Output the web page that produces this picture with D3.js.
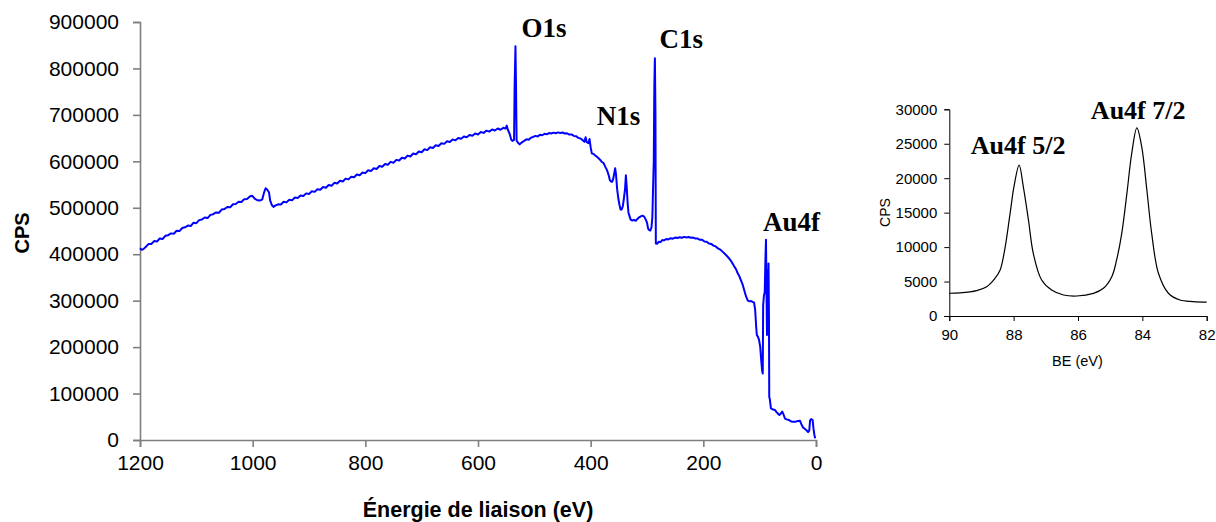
<!DOCTYPE html>
<html><head><meta charset="utf-8">
<script src="https://cdn.jsdelivr.net/npm/d3@7"></script>
<style>
html,body{margin:0;padding:0;background:#fff;}
svg{display:block;}
</style></head>
<body>
<svg id="chart" width="1216" height="522"></svg>
<script>
// ---------- Main survey spectrum ----------
const mainEnergy = [
1200,1197,1194,1190,1185,1180,1175,1170,1165,1160,1155,1150,1145,1140,1135,1130,1125,1120,1115,1110,1105,1100,1095,1090,1085,1080,1075,1070,1065,1060,1055,1050,1045,1040,1035,1030,1025,1020,1015,1010,1005,1001,996,991,987,983,980,977,974,971,969,966,963,960,
955,950,945,940,935,930,925,920,915,910,905,900,895,890,885,880,875,870,865,860,855,850,845,840,835,830,825,820,815,810,805,800,795,790,785,780,775,770,765,760,755,750,745,740,735,730,725,720,715,710,705,700,695,690,685,680,
675,670,665,660,655,650,645,640,635,630,625,620,615,610,605,600,595,590,585,580,575,570,565,560,555,551,549,547,544,541,539,536,535,533.5,532.5,531.5,529,526,522,518,514,510,506,502,498,494,490,486,482,478,474,470,466,462,458,454,450,446,442,438,434,430,426,422,418,414,411,409,407,404,402,400,398,395,392,389,386,383,380,377,374,371,368,366,364,362,360,358,356.5,355,353,351,349,347,345,343,341,339,337.5,336,334.5,333,331,329,326,323,320,317,314,311,308,305,302,300,298,296,294,292,290.5,289.5,288,287,286,285,284.3,282,279,276,273,270,266,262,258,254,250,246,242,238,234,230,226,222,218,214,210,206,202,198,194,190,186,182,178,174,170,166,162,158,154,150,146,142,139,136,133,130,127,124,121,118,115,112,110,108,106,105,103,101,99,97,95.5,94.5,93.8,92.5,91,90,88.8,88,87,86,85,84.3,83.5,83,82,80,76,73,70,67,65,62,60,58,55,52,48,44,40,36,32,28.5,26,23,20,17,14,12,10.5,8.5,6,4.5,3,1.5
];
const mainCPS = [
413000,409500,411000,415500,421800,422000,428300,427200,433900,432800,439600,441000,444900,444100,450500,449800,456400,458000,461700,460600,467900,466800,473400,474900,479100,477800,484700,486200,490000,489300,496100,497400,501800,500900,507600,508200,512900,512400,518600,519000,524200,526000,519000,516000,515500,518000,532000,542000,539000,533000,516000,506000,502000,504500,
507500,506900,512800,511600,517400,516300,521900,521000,526500,525300,531000,529600,535400,534200,539900,538700,544600,543000,549200,547600,553700,552300,558000,556500,562800,561100,567000,565700,571600,570000,576100,574600,580700,579000,585100,583600,589800,588200,594100,592600,598900,597000,603200,601700,607800,606100,612300,610500,616900,615100,621300,619600,625900,624200,630300,628800,
634500,633000,638900,637600,643200,641500,647000,645200,650300,648500,653500,651800,656600,654900,659800,657700,663000,661200,666100,664000,668700,666300,670600,668100,672200,670500,677000,668000,660000,647000,644000,646000,760000,848000,760000,645000,640000,636500,641000,644000,647500,646500,651000,652500,654800,653600,657000,656200,659200,658300,661000,659900,661800,660600,662300,661200,662000,659900,660500,657600,657900,654800,654200,650600,649100,645300,642000,652000,641500,639000,648000,630000,617000,616000,612500,610000,606500,603000,598500,596000,588000,581000,570000,560000,556500,556000,562000,575000,585000,572000,540000,521000,507000,496000,496500,503000,520000,540000,570000,545000,512000,490000,482000,474500,472500,474000,472000,476000,479500,481500,483000,481000,474000,468000,455000,452000,451000,458000,480000,530000,600000,760000,822000,700000,423000,422500,427000,426000,430500,429800,432600,431900,434500,433400,435800,434800,436600,435400,437300,436200,437100,435300,435900,433700,433600,431000,430900,427500,427000,423200,422200,418600,416800,412400,410000,405600,401000,396200,390500,384000,375500,367800,359000,352500,343000,333800,321000,308500,300000,298500,299300,297000,296000,280000,240000,226000,222000,215000,200000,168000,148000,143000,290000,310000,318000,377000,431000,340000,226000,366000,250000,380000,260000,93000,88000,68000,65500,64800,60000,56000,54000,57500,61000,56000,46000,44500,43000,40000,39500,39500,41000,41500,34000,27000,24000,21000,17000,20000,42000,45000,43000,25000,12000,3500
];
const mainXTicks = [1200,1000,800,600,400,200,0];
const mainYTicks = [0,100000,200000,300000,400000,500000,600000,700000,800000,900000];
const mainPeakLabels = ["O1s","C1s","N1s","Au4f"];
const mainPeakEnergy = [523,278,389,94];
const mainPeakCPS = [867000,844000,678000,450000];

// ---------- Inset: Au4f high resolution ----------
const insetBE = [90.0,89.67,89.15,88.84,88.58,88.42,88.27,88.11,87.99,87.83,87.70,87.54,87.39,87.13,86.82,86.45,86.04,85.52,85.21,84.95,84.80,84.64,84.48,84.33,84.17,84.02,83.86,83.71,83.50,83.19,82.83,82.42,82.0];
const insetCPS = [3300,3350,3680,4250,5470,6680,9830,14900,18770,21900,18770,13930,9100,5220,3770,3050,2900,3290,4020,5700,8130,12000,17800,23600,27300,24570,18290,12000,6200,3300,2320,2100,2000];
const insetXTicks = [90,88,86,84,82];
const insetYTicks = [0,5000,10000,15000,20000,25000,30000];
const insetPeakLabels = ["Au4f 5/2","Au4f 7/2"];
const insetPeakBE = [89.33,85.6];
const insetPeakCPS = [23500,28600];

const svg = d3.select("#chart");

// ===== Main chart =====
const x = d3.scaleLinear().domain([1200,0]).range([140,816]);
const y = d3.scaleLinear().domain([0,900000]).range([440,22]);
const axisColor = "#7f7f7f";

const gx = svg.append("g").attr("transform","translate(0,440)")
  .call(d3.axisBottom(x).tickValues(mainXTicks).tickFormat(d3.format("d")).tickSizeOuter(0).tickSize(7).tickPadding(8));
const gy = svg.append("g").attr("transform","translate(140,0)")
  .call(d3.axisLeft(y).tickValues(mainYTicks).tickFormat(d3.format("d")).tickSizeOuter(0).tickSize(7).tickPadding(14));
[gx,gy].forEach(g=>{
  g.select(".domain").attr("stroke",axisColor).attr("stroke-width",1.6);
  g.selectAll(".tick line").attr("stroke",axisColor).attr("stroke-width",1.6);
  g.selectAll(".tick text").attr("fill","#000").style("font-family","Liberation Sans, Arial, sans-serif").style("font-size","21px");
});

const mainLine = d3.line().x((d,i)=>x(mainEnergy[i])).y(d=>y(d));
svg.append("path").datum(mainCPS)
  .attr("d",mainLine).attr("fill","none").attr("stroke","#0000ff").attr("stroke-width",2).attr("stroke-linejoin","round");

svg.append("text").attr("x",478).attr("y",517).attr("text-anchor","middle")
  .style("font-family","Liberation Sans, Arial, sans-serif").style("font-weight","bold").style("font-size","21.5px")
  .text("Énergie de liaison (eV)");
svg.append("text").attr("transform","translate(29,233) rotate(-90)").attr("text-anchor","middle")
  .style("font-family","Liberation Sans, Arial, sans-serif").style("font-weight","bold").style("font-size","20px")
  .text("CPS");

svg.selectAll("text.peak").data(mainPeakLabels).enter().append("text").attr("class","peak")
  .attr("x",(d,i)=>x(mainPeakEnergy[i])).attr("y",(d,i)=>y(mainPeakCPS[i]))
  .style("font-family","Liberation Serif, Times New Roman, serif").style("font-weight","bold").style("font-size","27px")
  .text(d=>d);

// ===== Inset =====
const ix = d3.scaleLinear().domain([90,82]).range([949.3,1206.7]);
const iy = d3.scaleLinear().domain([0,30000]).range([316,109.3]);

const igx = svg.append("g").attr("transform","translate(0,316)")
  .call(d3.axisBottom(ix).tickValues(insetXTicks).tickFormat(d3.format("d")).tickSizeOuter(0).tickSize(5).tickPadding(8));
const igy = svg.append("g").attr("transform","translate(949.3,0)")
  .call(d3.axisLeft(iy).tickValues(insetYTicks).tickFormat(d3.format("d")).tickSizeOuter(0).tickSize(5).tickPadding(7));
[igx,igy].forEach(g=>{
  g.select(".domain").attr("stroke","#000").attr("stroke-width",1);
  g.selectAll(".tick line").attr("stroke","#000").attr("stroke-width",1);
  g.selectAll(".tick text").attr("fill","#000").style("font-family","Liberation Sans, Arial, sans-serif").style("font-size","15px");
});

const insetLine = d3.line().curve(d3.curveCatmullRom.alpha(0.5)).x((d,i)=>ix(insetBE[i])).y(d=>iy(d));
svg.append("path").datum(insetCPS)
  .attr("d",insetLine).attr("fill","none").attr("stroke","#000").attr("stroke-width",1.2);

svg.append("text").attr("x",1077.5).attr("y",366).attr("text-anchor","middle")
  .style("font-family","Liberation Sans, Arial, sans-serif").style("font-size","14.5px").text("BE (eV)");
svg.append("text").attr("transform","translate(890,212.5) rotate(-90)").attr("text-anchor","middle")
  .style("font-family","Liberation Sans, Arial, sans-serif").style("font-size","14px").text("CPS");

svg.selectAll("text.ipeak").data(insetPeakLabels).enter().append("text").attr("class","ipeak")
  .attr("x",(d,i)=>ix(insetPeakBE[i])).attr("y",(d,i)=>iy(insetPeakCPS[i]))
  .style("font-family","Liberation Serif, Times New Roman, serif").style("font-weight","bold").style("font-size","26px")
  .text(d=>d);
</script>
</body></html>
